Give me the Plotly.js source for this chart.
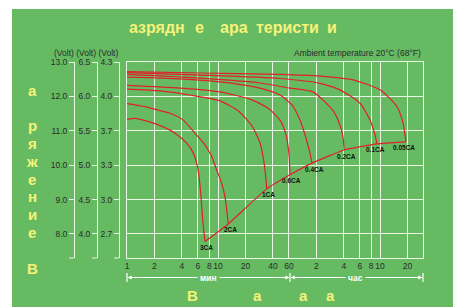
<!DOCTYPE html>
<html><head><meta charset="utf-8">
<script src="https://cdn.plot.ly/plotly-3.0.1.min.js"></script>
<style>
html,body{margin:0;padding:0;background:#fff;width:453px;height:307px;overflow:hidden}
#chart{position:absolute;left:12px;top:9px;width:441px;height:298px}
</style>
</head><body><div id="chart"></div>
<script>
// ---- data (time in minutes, voltage in 12V units) ----
const rates = ["3CA","2CA","1CA","0.6CA","0.4CA","0.2CA","0.1CA","0.05CA"];
const t3CA  = [1,1.22,1.51,2.21,3.37,4.52,5.35,5.82,6.17,6.49,6.78,7.18];
const v3CA  = [11.33,11.36,11.31,11.17,10.93,10.64,10.35,10.06,9.67,9.08,8.41,7.78];
const t2CA  = [1,1.58,2.21,2.97,4.15,5.58,7.18,8.51,9.66,10.96,11.91,12.44,12.95];
const v2CA  = [11.79,11.70,11.60,11.51,11.31,10.93,10.59,10.25,9.86,9.47,9.08,8.70,8.29];
const t1CA  = [1,2.3,4.92,10.5,16.6,23.6,28.8,31.9,33.6,34.2];
const v1CA  = [12.21,12.16,12.04,11.87,11.58,11.14,10.65,10.09,9.57,9.31];
const t06CA = [1,3.82,10.5,22.4,35.3,47.8,55.7,60.1,61.6];
const v06CA = [12.32,12.24,12.13,11.92,11.66,11.31,10.88,10.30,9.72];
const t04CA = [1,3.82,10.5,28.8,47.8,64.8,79.3,92.3,102,107.5];
const v04CA = [12.56,12.51,12.42,12.24,12.04,11.75,11.31,10.79,10.35,10.06];
const t02CA = [1,6.33,28.8,61.6,110,149,187,218,236,242];
const v02CA = [12.64,12.53,12.39,12.24,12.13,11.84,11.55,11.17,10.79,10.44];
const t01CA = [1,6.33,47.8,131.5,218,362,466,528,556];
const v01CA = [12.69,12.62,12.52,12.38,12.19,11.80,11.31,10.88,10.62];
const t005CA = [1,6.33,47.8,131.5,303,600,922,1072,1157];
const v005CA = [12.72,12.68,12.64,12.59,12.48,12.19,11.70,11.23,10.68];

const xTickVals = [1,2,4,6,8,10,20,40,60,120,240,360,480,600,1200];
const xTickText = ["1","2","4","6","8","10","20","40","60","2","4","6","8","10","20"];
const yTickVals = [13,12,11,10,9,8];
const yTick12 = ["13.0","12.0","11.0","10.0","9.0","8.0"];
const yTick6  = ["6.5","6.0","5.5","5.0","4.5","4.0"];
const yTick4  = ["4.3","4.0","3.7","3.3","3.0","2.7"];

const titleWords = ["азрядн","е","ара","теристи","и"];
const yTitleLetters = ["а","","р","я","ж","е","н","и","е","","В"];
const xTitleLetters = ["В","а","а","а"];
const unitMin = "мин", unitHour = "час";
const voltLabel = "(Volt) (Volt) (Volt)";
const ambient = "Ambient temperature 20°C (68°F)";

// ---- geometry helpers (page px -> paper fraction) ----
const W=441,H=298,ML=40,MR=30,MT=53,MB=49,OX=12,OY=9;
const PW=W-ML-MR, PH=H-MT-MB;
const fx = p => (p-OX-ML)/PW;
const fy = p => (OY+MT+PH-p)/PH;

const series = [[t3CA,v3CA],[t2CA,v2CA],[t1CA,v1CA],[t06CA,v06CA],[t04CA,v04CA],[t02CA,v02CA],[t01CA,v01CA],[t005CA,v005CA]];
const RED = '#e0202b';
const traces = series.map((s,i)=>({x:s[0],y:s[1],type:'scatter',mode:'lines',
  line:{color:RED,width:1.2,shape:'spline',smoothing:0.6},name:rates[i],hoverinfo:'skip'}));
const endT = series.map(s=>s[0][s[0].length-1]);
const endV = series.map(s=>s[1][s[1].length-1]);
traces.push({x:endT,y:endV,type:'scatter',mode:'lines',line:{color:RED,width:1.2,shape:'spline',smoothing:0.4},hoverinfo:'skip'});
['y2','y3','y4'].forEach(a=>traces.push({x:[null],y:[null],yaxis:a,type:'scatter',mode:'lines',hoverinfo:'skip'}));

const GRID='rgba(255,255,255,0.85)';
const TXT='#2b2b2b';
const FONT='Liberation Sans, Arial, sans-serif';
const YEL='#f6f27a';
const yr=[7.30,13.0];
function sideAxis(pageX, txt){
  return {overlaying:'y',anchor:'free',position:fx(pageX),side:'left',range:yr,
    tickvals:yTickVals,ticktext:txt,showline:true,linecolor:GRID,linewidth:1,
    ticks:'outside',ticklen:5,tickcolor:GRID,showgrid:false,zeroline:false,
    tickfont:{size:8.5,color:TXT,family:FONT},fixedrange:true};
}

const ann=[];
const titleX=[127,193,218,254,325];
titleWords.forEach((w,i)=>ann.push({text:w,xref:'paper',yref:'paper',x:fx(titleX[i]),y:fy(28),
  xanchor:'left',yanchor:'middle',showarrow:false,font:{size:16,color:YEL,family:FONT,weight:'bold'}}));
yTitleLetters.forEach((c,i)=>{ if(c) ann.push({text:c,xref:'paper',yref:'paper',x:fx(32),y:fy(90+i*17.8),
  xanchor:'center',yanchor:'middle',showarrow:false,font:{size:15,color:YEL,family:FONT,weight:'bold'}});});
const xLetX=[192,257,303,330];
xTitleLetters.forEach((c,i)=>ann.push({text:c,xref:'paper',yref:'paper',x:fx(xLetX[i]),y:fy(295),
  xanchor:'center',yanchor:'middle',showarrow:false,font:{size:15,color:YEL,family:FONT,weight:'bold'}}));
ann.push({text:voltLabel,xref:'paper',yref:'paper',x:fx(120),y:fy(53),xanchor:'right',yanchor:'middle',
  showarrow:false,font:{size:8.5,color:TXT,family:FONT}});
ann.push({text:ambient,xref:'paper',yref:'paper',x:fx(423),y:fy(53),xanchor:'right',yanchor:'middle',
  showarrow:false,font:{size:8.5,color:TXT,family:FONT}});
ann.push({text:unitMin,xref:'paper',yref:'paper',x:fx(208.5),y:fy(277.5),xanchor:'center',yanchor:'middle',
  showarrow:false,font:{size:8.5,color:'#ffffff',family:FONT,weight:'bold'}});
ann.push({text:unitHour,xref:'paper',yref:'paper',x:fx(355.5),y:fy(277.5),xanchor:'center',yanchor:'middle',
  showarrow:false,font:{size:8.5,color:'#ffffff',family:FONT,weight:'bold'}});
// dimension arrows: [head page x, tail page x]
[[127.5,199],[289.5,218],[290.5,347],[422.5,364]].forEach(a=>ann.push({text:'',xref:'paper',yref:'paper',
  x:fx(a[0]),y:fy(277.5),ax:a[1]-a[0],ay:0,showarrow:true,arrowhead:2,arrowsize:0.7,arrowwidth:1.2,
  arrowcolor:'#ffffff',standoff:0}));
rates.forEach((r,i)=>ann.push({text:r,xref:'x',yref:'y',x:Math.log10(endT[i]),y:endV[i],
  xanchor:'center',yanchor:'middle',yshift:-6,xshift:(i>=6?-2:2),showarrow:false,
  font:{size:6.5,color:'#111',family:FONT,weight:'bold'}}));

const shapes=[];
[127,290,423].forEach(p=>shapes.push({type:'line',xref:'paper',yref:'paper',x0:fx(p),x1:fx(p),
  y0:fy(273),y1:fy(282),line:{color:'#ffffff',width:1.2}}));
[74,97,119].forEach(p=>shapes.push({type:'line',xref:'paper',yref:'paper',x0:fx(p-5),x1:fx(p),
  y0:0,y1:0,line:{color:GRID,width:1}}));

const layout={
  width:W,height:H,margin:{l:ML,r:MR,t:MT,b:MB,pad:0},
  paper_bgcolor:'#66bb62',plot_bgcolor:'#66bb62',showlegend:false,
  font:{family:FONT,color:TXT},
  xaxis:{type:'log',range:[0,3.25],domain:[fx(127),1],tickvals:xTickVals,ticktext:xTickText,
    tickangle:0,showgrid:true,gridcolor:GRID,gridwidth:1,showline:true,mirror:true,linecolor:GRID,linewidth:1,
    ticks:'',zeroline:false,tickfont:{size:8.5,color:TXT,family:FONT},fixedrange:true},
  yaxis:{range:yr,tickvals:yTickVals,showticklabels:false,showgrid:true,gridcolor:GRID,gridwidth:1,
    showline:true,mirror:true,linecolor:GRID,linewidth:1,ticks:'',zeroline:false,fixedrange:true},
  yaxis2:sideAxis(74,yTick12),
  yaxis3:sideAxis(97,yTick6),
  yaxis4:sideAxis(119,yTick4),
  annotations:ann,shapes:shapes
};
Plotly.newPlot('chart',traces,layout,{staticPlot:true,displayModeBar:false});
</script>
</body></html>
